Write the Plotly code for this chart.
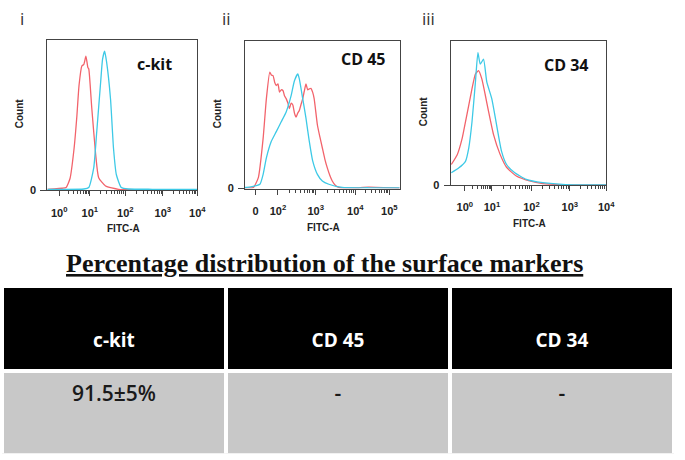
import numpy as np
import plotly.graph_objects as go

W, H = 685, 460

# ---------------- data (x in display channel units 0-100, y = relative count) -------------
ckit_ctrl_x = [0, 4.6, 9.9, 12.5, 15.1, 17.8, 19.7, 21.1, 23.0, 24.3, 25.7, 27.0, 27.6, 29.6, 32.2, 34.2, 38.8, 47.4, 60, 80, 100]
ckit_ctrl_y = [0.8, 1.0, 1.5, 2.0, 8, 28, 50, 70, 83, 84, 89.5, 82, 81, 55, 24, 8.5, 3, 0.8, 0.5, 0.5, 0.5]
ckit_stain_x = [0, 10, 24.3, 27.6, 30.9, 32.9, 35.5, 36.8, 38.2, 39.5, 42.1, 44.1, 46.0, 49.3, 54, 70, 100]
ckit_stain_y = [0.8, 0.8, 1.0, 2.0, 15, 39, 72, 87.5, 92.8, 85.5, 61, 28, 10.5, 2, 1, 0.8, 0.8]

cd45_ctrl_x = [0, 5.4, 8.6, 11.7, 13.8, 16.0, 17.0, 18.1, 19.2, 20.2, 21.3, 22.3, 23.4, 24.5, 25.5, 26.6, 27.7, 28.7,
               29.8, 30.9, 32.0, 33.0, 34.0, 35.1, 36.2, 37.3, 38.3, 39.4, 40.5, 41.5, 42.6, 43.7, 44.7, 46.8, 48.4,
               50.0, 51.6, 53.2, 54.8, 56.4, 58.5, 60.6, 73.4, 80, 100]
cd45_ctrl_y = [0.5, 0.7, 7.4, 34, 61, 79, 77, 76.6, 72, 69.9, 71, 65.4, 67, 66.5, 63, 61, 58, 54.3,
               58, 56.7, 51, 48.4, 51, 53, 57, 61, 66, 71, 67, 67.6, 68, 65.4, 61, 43.1, 35,
               27.5, 20, 14, 9, 5.1, 2, 0.7, 0.5, 1.0, 0.3]
cd45_stain_x = [0, 1.1, 9.6, 11.7, 13.8, 17.0, 20.2, 23.4, 26.6, 29.8, 31.9, 34.1, 35.1, 37.3, 39.4, 41.5, 43.7,
                46.8, 50.0, 54.2, 62.8, 80, 100]
cd45_stain_y = [0.7, 0.7, 2.9, 9.6, 20.8, 32, 38.6, 45.3, 52, 63, 73, 77.7, 74.4, 61, 47.7, 32.3, 18.9,
                9.6, 5.1, 2.9, 0.7, 0.5, 0.5]

cd34_ctrl_x = [0.4, 4.2, 7.4, 9.5, 11.6, 13.7, 15.9, 17.9, 20.0, 22.2, 24.3, 27.5, 31.7, 35.9, 42.2, 50.7, 59.2, 69.8, 100]
cd34_ctrl_y = [14.4, 21.2, 32.7, 44, 55.5, 67, 77.2, 79.5, 73.8, 62.8, 51.4, 35.3, 21.6, 12.5, 6.4, 3.0, 1.2, 0.5, 0.3]
cd34_stain_x = [0.4, 5.3, 9.5, 11.6, 13.7, 15.9, 17.5, 19.0, 21.1, 23.2, 26.4, 29.5, 32.7, 35.9, 41.2, 48.6, 59.2, 73.9, 100]
cd34_stain_y = [8.7, 12.1, 16.6, 25.8, 44.1, 71.7, 92, 84, 87.5, 71.7, 60.1, 41.9, 23.5, 14.4, 8.7, 4.1, 1.8, 0.5, 0.3]

panel_numbers = ["i", "ii", "iii"]
panel_markers = ["c-kit", "CD 45", "CD 34"]

ckit_tick_pos = [7.9, 28.3, 52.0, 77.0, 100.0]
ckit_tick_text = ["10<sup>0</sup>", "10<sup>1</sup>", "10<sup>2</sup>", "10<sup>3</sup>", "10<sup>4</sup>"]
cd45_tick_pos = [6.8, 21.3, 45.7, 71.3, 93.3]
cd45_tick_text = ["0", "10<sup>2</sup>", "10<sup>3</sup>", "10<sup>4</sup>", "10<sup>5</sup>"]
cd34_tick_pos = [9.1, 26.5, 51.9, 76.6, 100.0]
cd34_tick_text = ["10<sup>0</sup>", "10<sup>1</sup>", "10<sup>2</sup>", "10<sup>3</sup>", "10<sup>4</sup>"]

table_headers = ["c-kit", "CD 45", "CD 34"]
table_values = ["91.5±5%", "-", "-"]
table_title = "Percentage distribution of the surface markers"

# ---------------- styling ----------------
RED = "#F2636B"
BLUE = "#3DC9E6"
FRAME = "#444444"
LAB_FONT = "Liberation Sans"
MARK_FONT = "Open Sans"


def px(x):
    return x / W


def py(y):
    return 1 - y / H


def minor_positions(major, first_log_index):
    out = []
    for a, b in zip(major[first_log_index:-1], major[first_log_index + 1:]):
        for k in range(2, 10):
            out.append(a + (b - a) * np.log10(k))
    return out


panels = [
    dict(ctrl=(ckit_ctrl_x, ckit_ctrl_y), stain=(ckit_stain_x, ckit_stain_y),
         ticks=(ckit_tick_pos, ckit_tick_text), dom_x=(48, 200), dom_y=(41, 193), first_log=0),
    dict(ctrl=(cd45_ctrl_x, cd45_ctrl_y), stain=(cd45_stain_x, cd45_stain_y),
         ticks=(cd45_tick_pos, cd45_tick_text), dom_x=(248.3, 405), dom_y=(41.7, 191), first_log=1),
    dict(ctrl=(cd34_ctrl_x, cd34_ctrl_y), stain=(cd34_stain_x, cd34_stain_y),
         ticks=(cd34_tick_pos, cd34_tick_text), dom_x=(456.7, 614.3), dom_y=(41.7, 187.7), first_log=0),
]

fig = go.Figure()
layout_axes = {}
annotations = []


def ann(x, y, text, font, **kw):
    d = dict(x=px(x), y=py(y), xref="paper", yref="paper", text=text, showarrow=False,
             xanchor="center", yanchor="middle", font=font)
    d.update(kw)
    annotations.append(d)


for i, p in enumerate(panels):
    n = "" if i == 0 else str(i + 1)
    xa, ya = "x" + n, "y" + n
    for (xs, ys), col in ((p["ctrl"], RED), (p["stain"], BLUE)):
        fig.add_trace(go.Scatter(x=xs, y=ys, mode="lines", xaxis=xa, yaxis=ya,
                                 line=dict(color=col, width=1.3, shape="spline", smoothing=0.5),
                                 showlegend=False, hoverinfo="skip"))
    tpos, ttext = p["ticks"]
    layout_axes["xaxis" + n] = dict(
        domain=[px(p["dom_x"][0]), px(p["dom_x"][1])], anchor=ya, range=[0, 100],
        showline=True, linecolor=FRAME, linewidth=1, mirror=True, showgrid=False, zeroline=False,
        tickmode="array", tickvals=tpos, ticktext=["<b>" + t + "</b>" for t in ttext],
        ticks="outside", ticklen=5, tickcolor=FRAME, tickwidth=1, ticklabelstandoff=7,
        tickfont=dict(family=LAB_FONT, size=11, color="#222"),
        minor=dict(tickvals=minor_positions(tpos, p["first_log"]), ticks="outside", ticklen=3,
                   tickcolor=FRAME, tickwidth=1),
    )
    layout_axes["yaxis" + n] = dict(
        domain=[py(p["dom_y"][1]), py(p["dom_y"][0])], anchor=xa, range=[0, 100],
        showline=True, linecolor=FRAME, linewidth=1, mirror=True, showgrid=False, zeroline=False,
        tickmode="array", tickvals=[0], ticktext=["<b>0</b>"], ticks="outside", ticklen=6,
        ticklabelstandoff=2, tickcolor=FRAME, tickfont=dict(family=LAB_FONT, size=11, color="#222"),
    )
    x0, x1 = p["dom_x"]
    y0, y1 = p["dom_y"]
    ann(x0 - 28, (y0 + y1) / 2 - 2, "<b>Count</b>", dict(family=LAB_FONT, size=10, color="#222"),
        textangle=-90)
    ann((x0 + x1) / 2 + 1, y1 + 39, "<b>FITC-A</b>", dict(family=LAB_FONT, size=10, color="#222"))

# panel numbers and marker names
num_pos = [(22, 19), (230, 19), (434, 19)]
mark_pos = [(157, 65), (368, 60), (574, 66)]
for lab, (x, y) in zip(panel_numbers, num_pos):
    ann(x, y, lab, dict(family="Open Sans", size=17, color="#333"))
for lab, (x, y) in zip(panel_markers, mark_pos):
    ann(x, y, "<b>" + lab + "</b>", dict(family=MARK_FONT, size=16, color="#111"))

# table title
ann(329, 267, "<b><u>" + table_title + "</u></b>", dict(family="Liberation Serif", size=26, color="#111"))

fig.add_trace(go.Table(
    domain=dict(x=[px(2), px(683)], y=[0, py(290)]),
    columnwidth=[1, 1, 1],
    header=dict(values=["\u00a0<br><span style='font-size:19px'><b>" + h + "</b></span>" for h in table_headers],
                fill_color="black", line=dict(color="white", width=4), align="center", height=85,
                font=dict(family=MARK_FONT, size=22, color="white")),
    cells=dict(values=[["\u00a0<br><span style='font-size:21px'>" + v + "</span>"] for v in table_values],
               fill_color="#C8C8C8", line=dict(color="white", width=4), align="center", height=85,
               font=dict(family=MARK_FONT, size=9, color="#1a1a1a", weight=600)),
))

fig.update_layout(
    width=W, height=H, margin=dict(l=0, r=0, t=0, b=0),
    paper_bgcolor="white", plot_bgcolor="white", showlegend=False,
    annotations=annotations, **layout_axes,
)

fig.write_html("out.html", config={"displayModeBar": False},
               post_script="document.body.style.margin='0px';")
